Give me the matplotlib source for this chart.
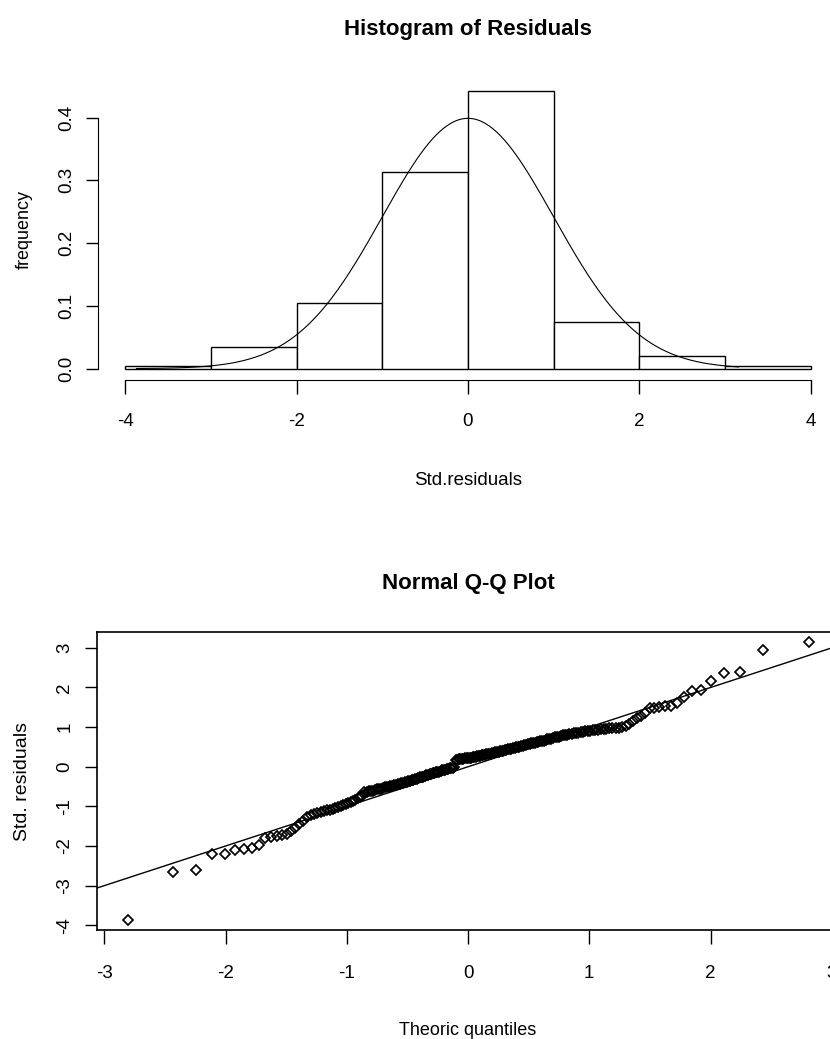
import numpy as np
import matplotlib
matplotlib.use('Agg')
import matplotlib.pyplot as plt
from statistics import NormalDist

plt.rcParams['font.family'] = ['Liberation Sans', 'DejaVu Sans']

# standardized residuals, sorted (201 points)
resid_low_tail = [-3.87, -2.66, -2.61, -2.20, -2.19, -2.10, -2.07, -2.06,
                  -1.97, -1.80, -1.78, -1.74, -1.73, -1.69, -1.63, -1.55,
                  -1.45, -1.36, -1.28, -1.22, -1.20, -1.17, -1.14, -1.12,
                  -1.10, -1.08, -1.06, -1.04, -1.02]
resid_neg = [-0.99, -0.97, -0.94, -0.92, -0.89, -0.86, -0.83, -0.80, -0.77, -0.75,
             -0.64, -0.63, -0.62, -0.61, -0.60, -0.58, -0.57, -0.56, -0.55, -0.53,
             -0.52, -0.51, -0.50, -0.49, -0.48, -0.47, -0.45, -0.44, -0.43, -0.41,
             -0.40, -0.39, -0.38, -0.36, -0.35, -0.34, -0.33, -0.31, -0.30, -0.29,
             -0.27, -0.26, -0.25, -0.23, -0.22, -0.21, -0.19, -0.18, -0.17, -0.15,
             -0.14, -0.13, -0.12, -0.10, -0.09, -0.08, -0.07, -0.06, -0.05, -0.04,
             -0.03, -0.02, -0.01]
resid_pos = [0.17, 0.18, 0.19, 0.19, 0.20, 0.20, 0.21, 0.22,
             0.22, 0.23, 0.23, 0.24, 0.25, 0.25, 0.26, 0.27, 0.28, 0.29,
             0.30, 0.30, 0.31, 0.32, 0.33, 0.33, 0.34, 0.35, 0.36, 0.37,
             0.38, 0.39, 0.40, 0.41, 0.42, 0.43, 0.44, 0.45, 0.46, 0.47,
             0.48, 0.49, 0.50, 0.51, 0.52, 0.53, 0.54, 0.56, 0.57, 0.58,
             0.59, 0.60, 0.61, 0.62, 0.63, 0.64, 0.65, 0.66, 0.67, 0.69,
             0.70, 0.71, 0.72, 0.74, 0.75, 0.76, 0.77, 0.79, 0.80, 0.81,
             0.82, 0.83, 0.84, 0.85, 0.86, 0.87, 0.88, 0.89, 0.90, 0.91,
             0.92, 0.93, 0.94, 0.95, 0.96, 0.965, 0.97, 0.98, 0.985, 0.99, 0.995]
resid_high_tail = [1.04, 1.09, 1.16, 1.24, 1.29, 1.35, 1.48, 1.48, 1.51, 1.53,
                   1.54, 1.60, 1.75, 1.92, 1.94, 2.16, 2.37, 2.38, 2.95, 3.16]

hist_bins = [-4, -3, -2, -1, 0, 1, 2, 3, 4]
hist_xticks = [-4, -2, 0, 2, 4]
hist_yticks = [0.0, 0.1, 0.2, 0.3, 0.4]
qq_xticks = [-3, -2, -1, 0, 1, 2, 3]
qq_yticks = [-4, -3, -2, -1, 0, 1, 2, 3]
qq_slope, qq_intercept = 1.0, 0.0

resid = np.sort(np.array(resid_low_tail + resid_neg + resid_pos + resid_high_tail))
n = len(resid)
theo = np.array([NormalDist().inv_cdf((i - 0.5) / n) for i in range(1, n + 1)])

fig = plt.figure(figsize=(8.3, 10.39), dpi=100)

# ---- histogram
ax1 = fig.add_axes([0.118, 0.6345, 0.8916, 0.2889])
ax1.hist(resid, bins=hist_bins, density=True, facecolor='white', edgecolor='black', linewidth=1.0)
xs = np.linspace(resid.min(), resid.max(), 300)
ax1.plot(xs, np.exp(-xs**2 / 2) / np.sqrt(2 * np.pi), color='black', lw=0.8)
ax1.set_xlim(-4.32, 4.32)
ax1.set_ylim(-0.0177, 0.4607)
for s in ['top', 'right']:
	ax1.spines[s].set_visible(False)
ax1.spines['left'].set_bounds(0, 0.4)
ax1.spines['bottom'].set_bounds(-4, 4)
ax1.set_xticks(hist_xticks)
ax1.set_xticklabels([str(t) for t in hist_xticks])
ax1.set_yticks(hist_yticks)
ax1.set_yticklabels(['%.1f' % t for t in hist_yticks], rotation=90, va='center')
ax1.tick_params(axis='x', length=10, width=1, labelsize=13.5, pad=14)
ax1.tick_params(axis='y', length=9, width=1, labelsize=13.5, pad=7)
ax1.set_title('Histogram of Residuals', fontsize=16, fontweight='bold', pad=32)
ax1.set_xlabel('Std.residuals', fontsize=13.5, labelpad=30)
ax1.set_ylabel('frequency', fontsize=13, labelpad=19)

# ---- normal Q-Q plot
ax2 = fig.add_axes([0.1169, 0.1049, 0.894, 0.2868])
ax2.plot(theo, resid, linestyle='none', marker='D', markersize=4.7,
	markerfacecolor='none', markeredgecolor='black', markeredgewidth=1.25)
ax2.axline((0, qq_intercept), slope=qq_slope, color='black', lw=1.0)
ax2.set_xlim(-3.06, 3.06)
ax2.set_ylim(-4.12, 3.40)
ax2.set_xticks(qq_xticks)
ax2.set_xticklabels([str(t) for t in qq_xticks])
ax2.set_yticks(qq_yticks)
ax2.set_yticklabels([str(t) for t in qq_yticks], rotation=90, va='center')
ax2.tick_params(axis='x', length=10, width=1, labelsize=13.5, pad=15)
ax2.tick_params(axis='y', length=9, width=1, labelsize=13.5, pad=8)
ax2.set_title('Normal Q-Q Plot', fontsize=16, fontweight='bold', pad=31)
ax2.set_xlabel('Theoric quantiles', fontsize=13, labelpad=29)
ax2.set_ylabel('Std. residuals', fontsize=14, labelpad=18)
for s in ax2.spines.values():
	s.set_linewidth(1.2)

fig.savefig('out.png', dpi=100)
